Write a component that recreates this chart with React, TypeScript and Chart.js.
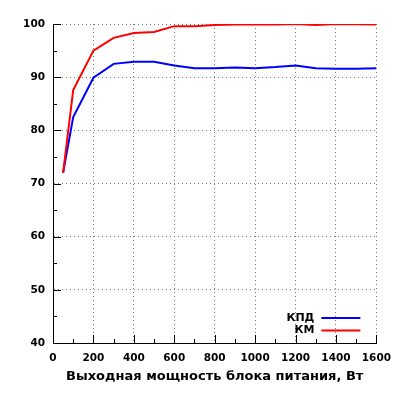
import { useEffect, useRef } from 'react';
import { Chart, registerables } from 'chart.js';

Chart.register(...registerables);

// мощность, Вт
const power = [50, 100, 200, 300, 400, 500, 600, 700, 800, 900, 1000, 1100, 1200, 1300, 1400, 1500, 1600];
// КПД, %
const kpd = [72.0, 82.5, 89.9, 92.5, 92.9, 92.9, 92.2, 91.7, 91.7, 91.8, 91.7, 91.9, 92.2, 91.7, 91.6, 91.6, 91.7];
// коэффициент мощности, %
const km = [72.0, 87.6, 95.0, 97.4, 98.3, 98.5, 99.6, 99.6, 99.8, 99.9, 99.9, 99.9, 100.0, 99.8, 100.0, 99.95, 99.9];

const seriesNames = ['КПД', 'КМ'];
const seriesColors = ['#0000ff', '#ff0000'];
const xTitle = 'Выходная мощность блока питания, Вт';

const FONT = "'DejaVu Sans', sans-serif";

// засечки внутрь, как в gnuplot
const inwardTicks = {
  id: 'inwardTicks',
  afterDraw(chart: Chart) {
    const { ctx, chartArea } = chart;
    const x = chart.scales.x;
    const y = chart.scales.y;
    ctx.save();
    ctx.strokeStyle = '#000';
    ctx.lineWidth = 1;
    ctx.beginPath();
    x.ticks.forEach((t) => {
      if (t.value === 0) return;
      const px = Math.round(x.getPixelForValue(t.value)) + 0.5;
      const len = t.value % 200 === 0 ? 8 : 4;
      ctx.moveTo(px, chartArea.bottom);
      ctx.lineTo(px, chartArea.bottom - len);
    });
    y.ticks.forEach((t) => {
      if (t.value === 40) return;
      const py = Math.round(y.getPixelForValue(t.value)) + 0.5;
      const len = t.value % 10 === 0 ? 8 : 4;
      ctx.moveTo(chartArea.left, py);
      ctx.lineTo(chartArea.left + len, py);
    });
    ctx.stroke();
    ctx.restore();
  },
};

// легенда внутри поля: текст справа налево, потом линия
const insideLegend = {
  id: 'insideLegend',
  afterDraw(chart: Chart) {
    const { ctx, chartArea } = chart;
    const textRight = chartArea.right - 62;
    const lineLeft = chartArea.right - 55;
    const lineRight = chartArea.right - 16;
    ctx.save();
    ctx.font = `bold 11px ${FONT}`;
    ctx.textAlign = 'right';
    ctx.textBaseline = 'middle';
    chart.data.datasets.forEach((ds, i) => {
      const yy = chartArea.bottom - 25 + i * 12.5;
      ctx.fillStyle = '#000';
      ctx.fillText(String(ds.label), textRight, yy);
      ctx.strokeStyle = String(ds.borderColor);
      ctx.lineWidth = 2;
      ctx.beginPath();
      ctx.moveTo(lineLeft, yy);
      ctx.lineTo(lineRight, yy);
      ctx.stroke();
    });
    ctx.restore();
  },
};

export default function App() {
  const canvasRef = useRef<HTMLCanvasElement>(null);

  useEffect(() => {
    document.body.style.margin = '0';
    if (!canvasRef.current) return;
    const chart = new Chart(canvasRef.current, {
      type: 'line',
      data: {
        datasets: [kpd, km].map((vals, i) => ({
          label: seriesNames[i],
          data: power.map((p, j) => ({ x: p, y: vals[j] })),
          borderColor: seriesColors[i],
          borderWidth: 2,
          pointRadius: 0,
          tension: 0,
          fill: false,
          order: 1 - i,
        })),
      },
      options: {
        responsive: false,
        animation: false,
        devicePixelRatio: 1,
        layout: { padding: { top: 24, right: 23, left: 0, bottom: 0 } },
        plugins: {
          legend: { display: false },
          tooltip: { enabled: false },
        },
        scales: {
          x: {
            type: 'linear',
            min: 0,
            max: 1600,
            afterFit: (s) => { s.height = 57; },
            ticks: {
              stepSize: 100,
              autoSkip: false,
              maxRotation: 0,
              padding: 9,
              color: '#000',
              font: { family: FONT, size: 10.5, weight: 'bold' },
              callback: (v) => (Number(v) % 200 === 0 ? String(v) : ''),
            },
            grid: {
              drawTicks: false,
              lineWidth: 1,
              color: (c) => (c.tick && c.tick.value % 200 === 0 && c.tick.value !== 0 ? '#777' : 'rgba(0,0,0,0)'),
            },
            border: { display: true, color: '#000', width: 1, dash: [1, 3] },
            title: {
              display: true,
              text: xTitle,
              color: '#000',
              font: { family: FONT, size: 13, weight: 'bold' },
              padding: { top: 0, bottom: 16 },
            },
          },
          y: {
            min: 40,
            max: 100,
            afterFit: (s) => { s.width = 53; },
            ticks: {
              stepSize: 5,
              autoSkip: false,
              padding: 8,
              color: '#000',
              font: { family: FONT, size: 10.5, weight: 'bold' },
              callback: (v) => (Number(v) % 10 === 0 ? String(v) : ''),
            },
            grid: {
              drawTicks: false,
              lineWidth: 1,
              color: (c) => (c.tick && c.tick.value % 10 === 0 && c.tick.value !== 40 ? '#777' : 'rgba(0,0,0,0)'),
            },
            border: { display: true, color: '#000', width: 1, dash: [1, 3] },
          },
        },
      },
      plugins: [inwardTicks, insideLegend],
    });
    return () => chart.destroy();
  }, []);

  return (
    <div style={{ width: 400, height: 400, background: '#fff' }}>
      <canvas ref={canvasRef} width={400} height={400} />
    </div>
  );
}
